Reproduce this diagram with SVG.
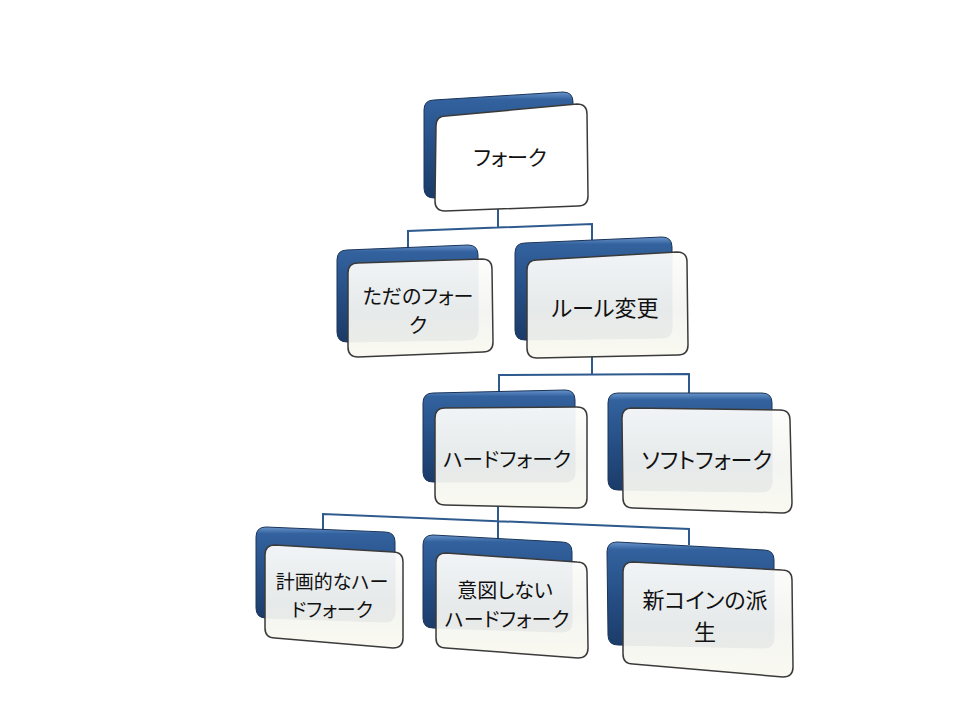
<svg xmlns="http://www.w3.org/2000/svg" width="960" height="720" viewBox="0 0 960 720">
<defs>
<linearGradient id="gBlue" x1="0" y1="0" x2="0" y2="1">
<stop offset="0" stop-color="#6a95cc"/>
<stop offset="0.07" stop-color="#33629e"/>
<stop offset="0.5" stop-color="#264f86"/>
<stop offset="1" stop-color="#1b3b68"/>
</linearGradient>
<linearGradient id="gFront" x1="0" y1="0" x2="0" y2="1">
<stop offset="0" stop-color="#fdfdfc"/>
<stop offset="0.55" stop-color="#f3f4f1"/>
<stop offset="1" stop-color="#f9f9f0"/>
</linearGradient>
</defs>
<style>
.blue{fill:url(#gBlue);stroke:#1a3459;stroke-width:1}
.front{fill:url(#gFront);fill-opacity:0.94;stroke:#3a3a3a;stroke-width:1.5}
.top{fill:#ffffff;stroke:#3a3a3a;stroke-width:1.5}
.conn{fill:none;stroke:#2e5a8e;stroke-width:2}
.t{font-family:"Noto Sans CJK JP","Noto Sans",sans-serif;font-feature-settings:"palt";fill:#111;text-anchor:middle}
</style>
<rect width="960" height="720" fill="#ffffff"/>
<g id="connectors">
<path class="conn" d="M498,208 L498,228 M408,250 L408,231 L592,224 L592,240"/>
<path class="conn" d="M592,355 L592,375 M499,393 L499,375 L689,374 L689,393"/>
<path class="conn" d="M498,505 L498,540 M323,530 L323,514 L689,529 L689,545"/>
</g>
<g id="node-fork">
<path class="blue" d="M434,100 L563,92 Q573,92 573,102 L573,186 Q573,196 563,196 L434,198 Q424,198 424,188 L424,110 Q424,100 434,100 Z"/>
<path class="top" d="M446,116 L577,104 Q587,104 587,114 L588,196 Q588,206 578,206 L445,211 Q435,211 435,201 L436,126 Q436,116 446,116 Z"/>
<text class="t" font-size="21" x="510" y="165">フォーク</text>
</g>
<g id="node-plain-fork">
<path class="blue" d="M347,250 L468,245 Q478,245 478,255 L478,330 Q478,340 468,340 L347,342 Q337,342 337,332 L337,260 Q337,250 347,250 Z"/>
<path class="front" d="M358,263 L482,259 Q492,259 492,269 L493,342 Q493,352 483,352 L358,357 Q348,357 348,347 L348,273 Q348,263 358,263 Z"/>
<text class="t" font-size="20" x="418" y="304">ただのフォー</text>
<text class="t" font-size="20" x="418" y="333">ク</text>
</g>
<g id="node-rule-change">
<path class="blue" d="M525,243 L662,237 Q672,237 672,247 L672,328 Q672,338 662,338 L525,340 Q515,340 515,330 L515,253 Q515,243 525,243 Z"/>
<path class="front" d="M537,260 L677,252 Q687,252 687,262 L688,345 Q688,355 678,355 L537,358 Q527,358 527,348 L527,270 Q527,260 537,260 Z"/>
<text class="t" font-size="22" x="605" y="316">ルール変更</text>
</g>
<g id="node-hard-fork">
<path class="blue" d="M433,393 L565,390 Q575,390 575,400 L575,472 Q575,482 565,482 L433,482 Q423,482 423,472 L423,403 Q423,393 433,393 Z"/>
<path class="front" d="M445,408 L577,407 Q587,407 587,417 L587,498 Q587,508 577,508 L445,505 Q435,505 435,495 L435,418 Q435,408 445,408 Z"/>
<text class="t" font-size="20.5" x="507" y="467">ハードフォーク</text>
</g>
<g id="node-soft-fork">
<path class="blue" d="M618,393 L762,393 Q772,393 772,403 L772,482 Q772,492 762,492 L618,490 Q608,490 608,480 L608,403 Q608,393 618,393 Z"/>
<path class="front" d="M632,408 L780,410 Q790,410 790,420 L792,503 Q792,513 782,513 L633,508 Q623,508 623,498 L622,418 Q622,408 632,408 Z"/>
<text class="t" font-size="22" x="707" y="468">ソフトフォーク</text>
</g>
<g id="node-planned">
<path class="blue" d="M266,527 L385,532 Q395,532 395,542 L395,612 Q395,622 385,622 L266,618 Q256,618 256,608 L256,537 Q256,527 266,527 Z"/>
<path class="front" d="M275,545 L393,552 Q403,552 403,562 L403,638 Q403,648 393,648 L275,638 Q265,638 265,628 L265,555 Q265,545 275,545 Z"/>
<text class="t" font-size="19" x="332" y="589">計画的なハー</text>
<text class="t" font-size="19" x="332" y="617">ドフォーク</text>
</g>
<g id="node-unintended">
<path class="blue" d="M433,535 L562,542 Q572,542 572,552 L572,622 Q572,632 562,632 L433,628 Q423,628 423,618 L423,545 Q423,535 433,535 Z"/>
<path class="front" d="M446,553 L577,562 Q587,562 587,572 L588,648 Q588,658 578,658 L446,648 Q436,648 436,638 L436,563 Q436,553 446,553 Z"/>
<text class="t" font-size="20" x="505" y="598">意図しない</text>
<text class="t" font-size="20" x="507" y="627">ハードフォーク</text>
</g>
<g id="node-new-coin">
<path class="blue" d="M617,542 L764,550 Q774,550 774,560 L774,638 Q774,648 764,648 L618,645 Q608,645 608,635 L607,552 Q607,542 617,542 Z"/>
<path class="front" d="M633,562 L782,570 Q792,570 792,580 L793,667 Q793,677 783,677 L633,664 Q623,664 623,654 L623,572 Q623,562 633,562 Z"/>
<text class="t" font-size="22" x="705" y="608">新コインの派</text>
<text class="t" font-size="22" x="705" y="640">生</text>
</g>
</svg>
